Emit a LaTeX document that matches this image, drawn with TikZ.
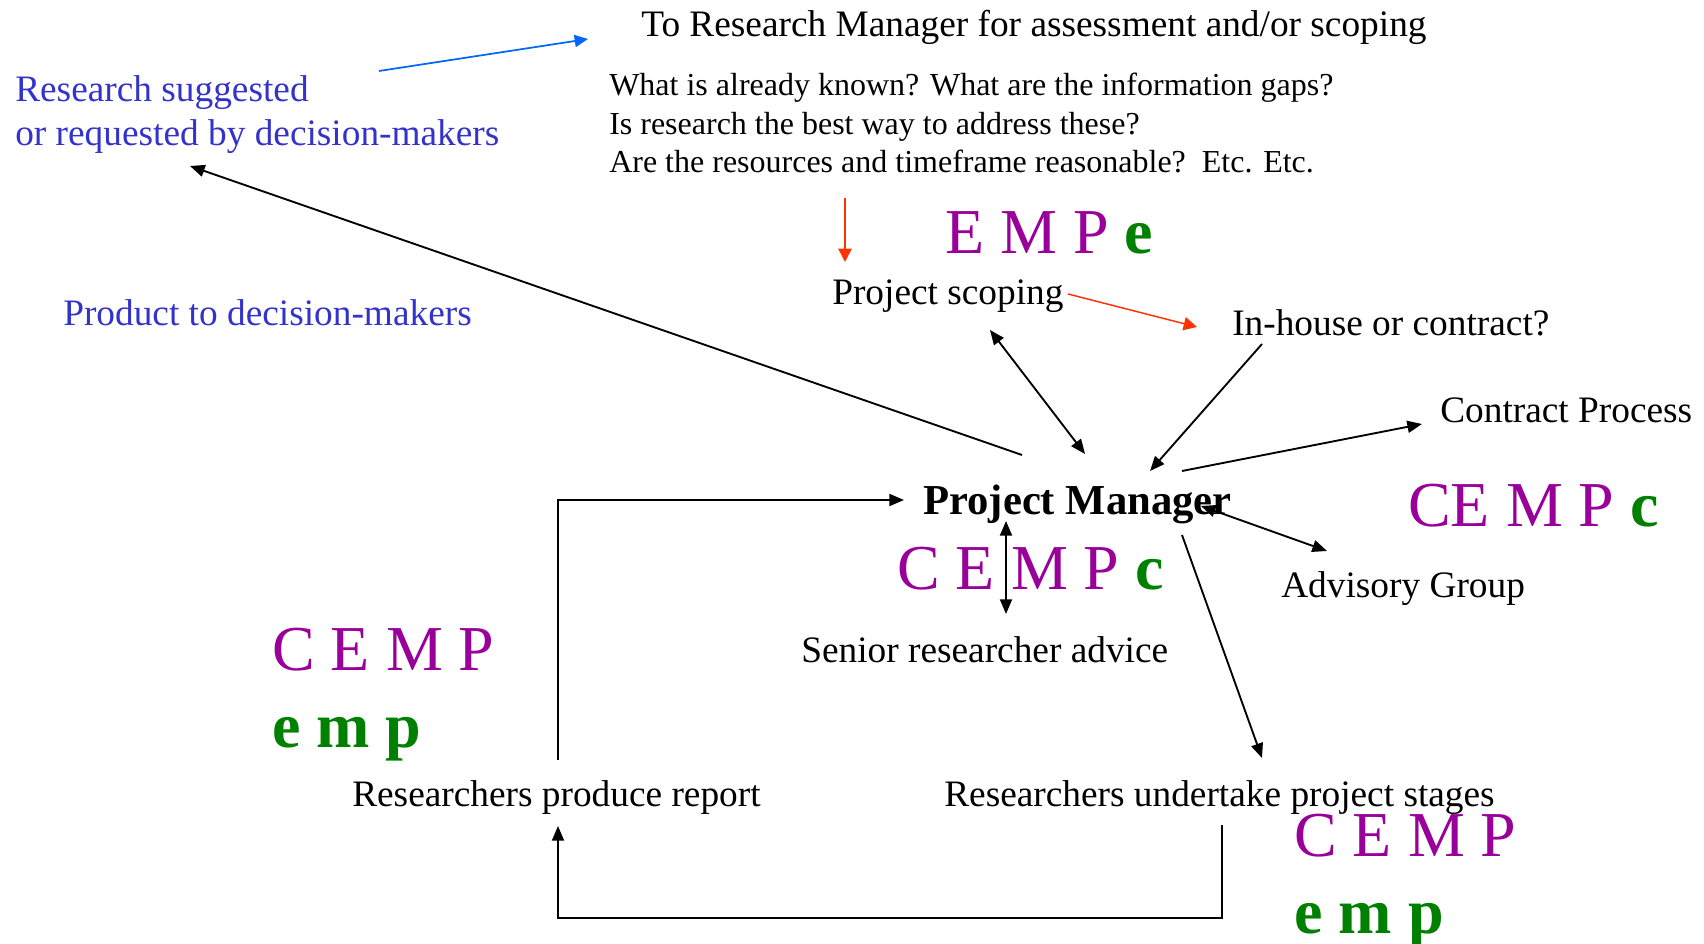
\documentclass[tikz,border=0pt]{standalone}
\usepackage{fontspec}
\setmainfont{Liberation Serif}
\usetikzlibrary{arrows.meta}
\definecolor{cpurple}{HTML}{990099}
\definecolor{cgreen}{HTML}{008000}
\definecolor{cblue}{HTML}{3333CC}
\definecolor{barrow}{HTML}{0066FF}
\definecolor{rarrow}{HTML}{FF3300}
\tikzset{
  lbl/.style={anchor=base west,inner sep=0pt,font=\fontsize{28}{31}\selectfont},
  qlbl/.style={anchor=base west,inner sep=0pt,font=\fontsize{24}{28}\selectfont},
  big/.style={anchor=base west,inner sep=0pt,font=\fontsize{48}{52}\selectfont,text=cpurple},
  conn/.style={line width=1.4pt,-{Triangle[length=11pt,width=9pt]}},
  dconn/.style={line width=1.4pt,{Triangle[length=11pt,width=9pt]}-{Triangle[length=11pt,width=9pt]}},
  redconn/.style={rarrow,line width=1.1pt,-{Triangle[length=10pt,width=10pt]}},
  blueconn/.style={barrow,line width=1.3pt,-{Triangle[length=10pt,width=9pt]}},
  plain/.style={line width=1.4pt}
}
\newcommand{\gb}[1]{\textcolor{cgreen}{\textbf{#1}}}
\begin{document}
\begin{tikzpicture}[x=0.75pt,y=-0.75pt]
\useasboundingbox (0,0) rectangle (1704,944);
% texts
\node[lbl] (top) at (641,37) {To Research Manager for assessment and/or scoping};
\node[qlbl] (q1) at (609,96) {What is already known? What are the information gaps?};
\node[qlbl] (q2) at (609,135) {Is research the best way to address these?};
\node[qlbl] (q3) at (609,173) {Are the resources and timeframe reasonable?\ \ Etc. Etc.};
\node[lbl,text=cblue] (sug1) at (15,102) {Research suggested};
\node[lbl,text=cblue] (sug2) at (15,146) {or requested by decision-makers};
\node[lbl,text=cblue] (prod) at (63,326) {Product to decision-makers};
\node[big] (empe) at (945,254) {E M P \gb{e}};
\node[lbl] (scop) at (832,305) {Project scoping};
\node[lbl] (inh) at (1232,336) {In-house or contract?};
\node[lbl] (contr) at (1440,423) {Contract Process};
\node[big] (cempr) at (1408,527) {CE M P \gb{c}};
\node[anchor=base west,inner sep=0pt,font=\fontsize{32}{36}\selectfont\bfseries] (pm) at (923,515) {Project Manager};
\node[big] (cempm) at (897,590) {C E M P \gb{c}};
\node[lbl] (adv) at (1281,598) {Advisory Group};
\node[lbl] (sen) at (801,663) {Senior researcher advice};
\node[big] (cempl) at (272,671) {C E M P};
\node[big] (empl) at (272,748) {\gb{e m p}};
\node[lbl] (prodrep) at (352,806) {Researchers produce report};
\node[lbl] (under) at (944,806) {Researchers undertake project stages};
\node[big] (cempb) at (1294,856) {C E M P};
\node[big] (empb) at (1294,933) {\gb{e m p}};
% connector end points
\coordinate (bA) at (379,71);   \coordinate (bB) at (588,39);
\coordinate (rA) at (845,198);  \coordinate (rB) at (845,262);
\coordinate (sA) at (1068,294); \coordinate (sB) at (1197,327);
\coordinate (pmUL) at (1022,455); \coordinate (sugE) at (190,166);
\coordinate (scE) at (990,330);  \coordinate (pmT) at (1085,454);
\coordinate (inE) at (1262,344); \coordinate (pmTR) at (1150,471);
\coordinate (pmR) at (1182,471); \coordinate (coE) at (1422,424);
\coordinate (pmG) at (1201,506); \coordinate (adE) at (1327,551);
\coordinate (pmB) at (1182,535); \coordinate (unE) at (1262,758);
\coordinate (pmV) at (1006,521); \coordinate (seE) at (1006,614);
\coordinate (prT) at (558,760);  \coordinate (pmL) at (904,500);
\coordinate (unB) at (1222,825); \coordinate (prB) at (558,826);
% connectors
\draw[blueconn] (bA) -- (bB);
\draw[redconn] (rA) -- (rB);
\draw[redconn] (sA) -- (sB);
\draw[conn] (pmUL) -- (sugE);
\draw[dconn] (scE) -- (pmT);
\draw[conn] (inE) -- (pmTR);
\draw[conn] (pmR) -- (coE);
\draw[dconn] (pmG) -- (adE);
\draw[conn] (pmB) -- (unE);
\draw[dconn] (pmV) -- (seE);
\draw[conn] (prT) |- (pmL);
\draw[conn] (unB) -- (1222,918) -| (prB);
\end{tikzpicture}
\end{document}
